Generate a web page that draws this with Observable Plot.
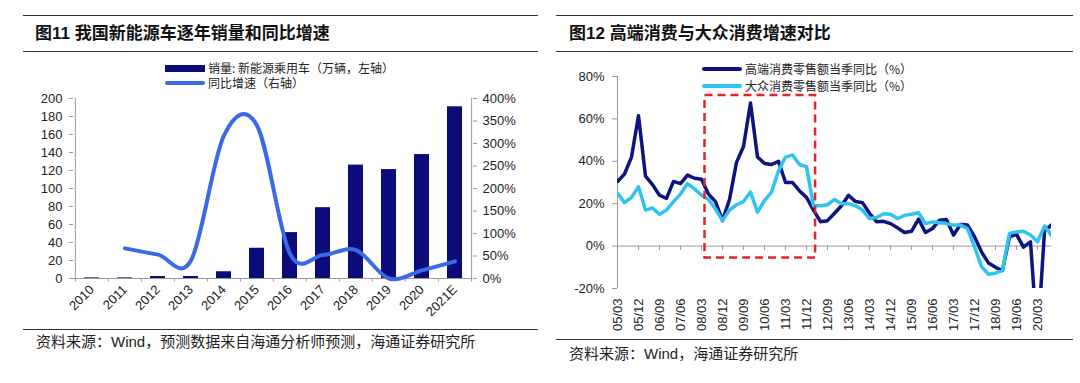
<!DOCTYPE html>
<html><head><meta charset="utf-8">
<script src="https://cdn.jsdelivr.net/npm/d3@7"></script>
<script src="https://cdn.jsdelivr.net/npm/@observablehq/plot@0.6"></script>
<style>
body{margin:0;background:#fff;}
#wrap{position:relative;width:1080px;height:383px;overflow:hidden;background:#fff;font-family:"Liberation Sans",Arial,"Noto Sans CJK SC",sans-serif;}
#wrap svg{position:absolute;top:0;}
.rule{position:absolute;height:0;border-top:1px solid #333;}
.title{position:absolute;font-family:"Liberation Sans","Noto Sans CJK SC",sans-serif;font-weight:bold;font-size:17px;line-height:20px;color:#111;white-space:nowrap;z-index:2;}
.src{position:absolute;font-family:"Liberation Sans","Noto Sans CJK SC",sans-serif;font-size:15px;line-height:18px;color:#222;white-space:nowrap;z-index:2;}
.leg{position:absolute;font-family:"Noto Sans CJK SC",sans-serif;font-size:12px;line-height:12px;height:12px;color:#222;white-space:nowrap;display:flex;align-items:center;z-index:2;}
.sw{display:inline-block;width:40px;margin-right:3px;}
</style></head>
<body>
<div id="wrap">
  <div class="rule" style="left:23px;width:515px;top:15px"></div>
  <div class="rule" style="left:23px;width:515px;top:51px"></div>
  <div class="rule" style="left:23px;width:515px;top:329px"></div>
  <div class="rule" style="left:556px;width:517px;top:15px"></div>
  <div class="rule" style="left:556px;width:517px;top:51px"></div>
  <div class="rule" style="left:556px;width:517px;top:339px"></div>
  <div class="title" style="left:35px;top:24px">图11 我国新能源车逐年销量和同比增速</div>
  <div class="title" style="left:569px;top:24px">图12 高端消费与大众消费增速对比</div>
  <div class="src" style="left:36px;top:333px">资料来源：Wind，预测数据来自海通分析师预测，海通证券研究所</div>
  <div class="src" style="left:569px;top:345px">资料来源：Wind，海通证券研究所</div>
  <div class="leg" style="left:165px;top:62px"><span class="sw" style="height:7px;background:#0b0b7a"></span>销量: 新能源乘用车（万辆，左轴）</div>
  <div class="leg" style="left:165px;top:77px"><span class="sw" style="height:4px;border-radius:2px;background:#3b6ae8"></span>同比增速（右轴）</div>
  <div class="leg" style="left:702px;top:63px"><span class="sw" style="height:4px;border-radius:2px;background:#0d1480"></span>高端消费零售额当季同比（%）</div>
  <div class="leg" style="left:702px;top:80px"><span class="sw" style="height:4px;border-radius:2px;background:#2ec4ef"></span>大众消费零售额当季同比（%）</div>
</div>
<script>
// ---------- Left chart data ----------
const years = ["2010","2011","2012","2013","2014","2015","2016","2017","2018","2019","2020","2021E"];
const sales = [0.7, 0.7, 2.2, 2.2, 7.5, 33.6, 51, 78.7, 126, 121, 137.7, 190.8];
const growth = [null, 67, 53, 40, 318, 340, 55, 52, 63, 0, 18, 38];
const leftTicks = [0,20,40,60,80,100,120,140,160,180,200];
const rightTicks = [0,50,100,150,200,250,300,350,400];

// ---------- Right chart data ----------
const quarterLabels = ["05/03","05/12","06/09","07/06","08/03","08/12","09/09","10/06","11/03","11/12","12/09","13/06","14/03","14/12","15/09","16/06","17/03","17/12","18/09","19/06","20/03"];
const highEnd = [30.5,34,42,61.5,33,29,24,22.5,30.5,29.5,33.5,32,31.5,24.5,21,12,22,39.5,47,67.5,
  42,39,38.5,40,30,30,26,23,17,11.5,12,15.5,19,24,21,20.5,15.5,11.5,11.7,10.6,
  8.6,6.4,7,12.7,6.4,8.3,12.2,12.5,5.2,10.2,9.9,4.4,-2.7,-8,-10,-11.5,4.4,5.5,-0.5,2,
  -45,7,10];
const mass = [25,20.5,23,28,17,18,15,17,21,24.5,29.5,27,24,22,17.5,12,17,19.5,21,25.5,
  16,21.5,25.5,35.5,42,43,38.5,37.5,19,19,19.5,22,20,20,19,17,13,13.5,15.3,15,
  13,14.5,15,15.8,10.6,11.4,11,10.6,9.9,9.9,8.3,-0.3,-9.7,-13.3,-12.8,-11.5,6,6.7,7,5.2,
  2,9.5,5];
const highlightBox = [{x1:12.5, x2:28.3, y1:-5.6, y2:71}];
const yTicksR = [-20,0,20,40,60,80];

const wrap = document.getElementById("wrap");
const fontStyle = {fontFamily:"'Liberation Sans', Arial, sans-serif", fontSize:"13px", color:"#222", background:"transparent", overflow:"visible"};

// ---------- Left chart ----------
const dataL = years.map((y,i)=>({year:y, sales:sales[i], growth:growth[i]}));
const mL = {left:73, right:68, top:98, bottom:105};
const bandStep = (540 - mL.left - mL.right) / years.length;
const left = Plot.plot({
  width:540, height:383,
  marginLeft:mL.left, marginRight:mL.right, marginTop:mL.top, marginBottom:mL.bottom,
  x:{domain:years, padding:0, axis:null},
  y:{domain:[0,200], axis:null},
  style:fontStyle,
  marks:[
    Plot.barY(dataL,{x:"year", y:"sales", fill:"#0b0b7a", insetLeft:9, insetRight:9}),
    Plot.ruleY([0],{stroke:"#999"}),
    Plot.ruleX([years[0]],{dx:-bandStep/2, y1:0, y2:200, stroke:"#999"}),
    Plot.ruleX([years[years.length-1]],{dx:bandStep/2, y1:0, y2:200, stroke:"#999"}),
    Plot.ruleX(years,{x:d=>d, dx:-bandStep/2, y1:0, y2:-4, stroke:"#999"}),
    Plot.ruleX([years[years.length-1]],{dx:bandStep/2, y1:0, y2:-4, stroke:"#999"}),
    Plot.line(dataL.filter(d=>d.growth!=null),{x:"year", y:d=>d.growth/2, stroke:"#3b6ae8", strokeWidth:4, curve:"cardinal", strokeLinecap:"round"}),
    Plot.axisY({anchor:"left", ticks:leftTicks, tickSize:4, tickPadding:7, stroke:"#999", fill:"#222", label:null}),
    Plot.axisY({anchor:"right", ticks:rightTicks.map(v=>v/2), tickFormat:v=>`${v*2}%`, tickSize:4, tickPadding:6, stroke:"#999", fill:"#222", label:null}),
    Plot.axisX({anchor:"bottom", tickRotate:-45, tickSize:0, tickPadding:9, fill:"#222", label:null})
  ]
});
left.style.left = "0px";
wrap.appendChild(left);

// ---------- Right chart ----------
const seriesR = highEnd.map((v,i)=>({i, v}));
const seriesM = mass.map((v,i)=>({i, v}));
const tickIdx = quarterLabels.map((_,k)=>k*3);
const right = Plot.plot({
  width:540, height:383,
  marginLeft:77, marginRight:29, marginTop:76, marginBottom:95,
  x:{domain:[0,62], axis:null},
  y:{domain:[-20,80], axis:null},
  style:fontStyle,
  marks:[
    Plot.ruleY([0],{stroke:"#999"}),
    Plot.ruleX(tickIdx.slice(1),{x:d=>d, y1:0, y2:-2, stroke:"#999"}),
    Plot.ruleX([0],{y1:-20, y2:80, stroke:"#999"}),
    Plot.axisY({ticks:yTicksR, tickFormat:d=>d+"%", tickSize:5, tickPadding:8, stroke:"#999", fill:"#222", label:null}),
    Plot.axisX({ticks:tickIdx, tickFormat:d=>quarterLabels[d/3], tickRotate:-90, tickSize:0, tickPadding:10, fill:"#222", label:null}),
    Plot.line(seriesR,{x:"i", y:"v", stroke:"#0d1480", strokeWidth:3.5, strokeLinejoin:"round", clip:true}),
    Plot.line(seriesM,{x:"i", y:"v", stroke:"#2ec4ef", strokeWidth:3.5, strokeLinejoin:"round", clip:true}),
    Plot.rect(highlightBox,{x1:"x1", x2:"x2", y1:"y1", y2:"y2", fill:"none", stroke:"#e3242b", strokeWidth:2.5, strokeDasharray:"8,5"})
  ]
});
right.style.left = "540px";
wrap.appendChild(right);
</script>
</body></html>
